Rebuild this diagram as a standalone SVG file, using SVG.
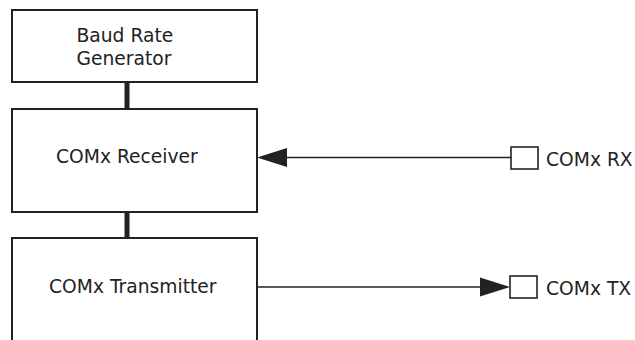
<svg xmlns="http://www.w3.org/2000/svg" width="635" height="340" viewBox="0 0 635 340">
<style>
.box{fill:#fff;stroke:#222;stroke-width:2}
.port{fill:#fff;stroke:#222;stroke-width:1.6}
.t{font-family:"DejaVu Sans",Verdana,sans-serif;font-size:18.7px;fill:#222}
.bus{stroke:#222;stroke-width:5}
.wire{stroke:#222;stroke-width:1.6;fill:none}
.ah{fill:#222}
</style>
<rect width="635" height="340" fill="#fff"/>
<g id="connectors">
<line class="bus" x1="127" y1="82" x2="127" y2="109"/>
<line class="bus" x1="127" y1="212" x2="127" y2="238"/>
<line class="wire" x1="285" y1="157.5" x2="511" y2="157.5"/>
<polygon class="ah" points="257,157.5 287,148 287,167"/>
<line class="wire" x1="257" y1="287" x2="482" y2="287"/>
<polygon class="ah" points="510,287 480,277.5 480,296.5"/>
</g>
<g id="baud">
<rect class="box" x="12" y="10" width="245" height="72"/>
<text class="t" x="76.5" y="42">Baud Rate</text>
<text class="t" x="76.5" y="64.5">Generator</text>
</g>
<g id="receiver">
<rect class="box" x="12" y="109" width="245" height="103"/>
<text class="t" x="56" y="163">COMx Receiver</text>
</g>
<g id="transmitter">
<rect class="box" x="12" y="238" width="245" height="110"/>
<text class="t" x="49" y="293">COMx Transmitter</text>
</g>
<g id="rx">
<rect class="port" x="511" y="147" width="27" height="22"/>
<text class="t" x="546" y="165.5">COMx RX</text>
</g>
<g id="tx">
<rect class="port" x="510" y="276" width="27" height="22"/>
<text class="t" x="546" y="295">COMx TX</text>
</g>
</svg>
